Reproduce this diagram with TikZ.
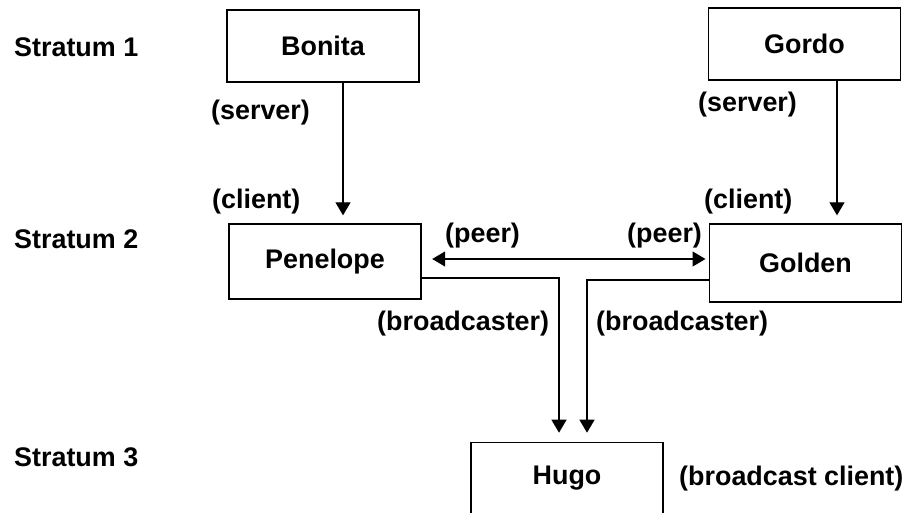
\documentclass[tikz,border=0pt]{standalone}
\usepackage{fontspec}
\setmainfont{Liberation Sans}
\usetikzlibrary{arrows.meta}

\begin{document}
\begin{tikzpicture}[
  x=1pt, y=-1pt,
  font=\fontsize{26.9}{32}\selectfont\bfseries,
  box/.style={draw, line width=1.4pt, inner sep=0pt, minimum width=192pt},
  lbl/.style={anchor=base west, inner sep=0pt},
  arr/.style={line width=1.3pt, -{Triangle[length=13pt,width=15pt]}},
  biarr/.style={line width=1.3pt, {Triangle[length=13pt,width=15pt]}-{Triangle[length=13pt,width=15pt]}},
]
\useasboundingbox (0,0) rectangle (909,512);

% stratum labels
\node[lbl] (s1) at (14,56) {Stratum 1};
\node[lbl] (s2) at (14,248) {Stratum 2};
\node[lbl] (s3) at (14,466) {Stratum 3};

% hosts
\node[box, minimum height=72pt] (bonita) at (323,46) {Bonita};
\node[box, minimum height=72pt] (gordo) at (804.5,44) {Gordo};
\node[box, minimum height=75pt] (penelope) at (325,261.5) {Penelope};
\node[box, minimum height=78pt] (golden) at (805.5,263) {Golden};
\node[box, minimum height=80pt, text depth=15.3pt, anchor=north] (hugo) at (567,442) {Hugo};

% level helpers
\coordinate (peerlevel) at (0,259);
\coordinate (pbl) at (0,278);
\coordinate (gbl) at (0,280);
\coordinate (bonitaout) at ([xshift=20pt]bonita.south);
\coordinate (gordoout) at ([xshift=32.5pt]gordo.south);

% server -> client
\draw[arr, shorten >=8pt] (bonitaout) -- (bonitaout |- penelope.north);
\draw[arr, shorten >=8pt] (gordoout) -- (gordoout |- golden.north);

% peers
\draw[biarr, shorten <=10.5pt, shorten >=3.3pt] (penelope.east |- peerlevel) -- (golden.west |- peerlevel);

% broadcasts
\draw[arr, shorten >=9.3pt] (penelope.east |- pbl) -| ([xshift=-8pt]hugo.north);
\draw[arr, shorten >=9.3pt] (golden.west |- gbl) -| ([xshift=20pt]hugo.north);

% role labels
\node[lbl] (srvl) at (211,119) {(server)};
\node[lbl] (clil) at (212,208) {(client)};
\node[lbl] (srvr) at (698,111) {(server)};
\node[lbl] (clir) at (704,208) {(client)};
\node[lbl] (peerl) at (445,242) {(peer)};
\node[lbl] (peerr) at (627,242) {(peer)};
\node[lbl] (bcl) at (377,330) {(broadcaster)};
\node[lbl] (bcr) at (596,330) {(broadcaster)};
\node[lbl] (bcc) at (679,485) {(broadcast client)};
\end{tikzpicture}
\end{document}
